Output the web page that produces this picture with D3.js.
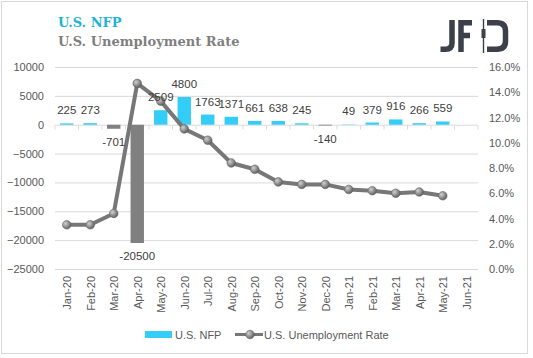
<!DOCTYPE html>
<html><head><meta charset="utf-8">
<script src="https://cdn.jsdelivr.net/npm/d3@7/dist/d3.min.js"></script>
<style>
html,body{margin:0;padding:0;background:#fff;}
svg{display:block;}
</style></head>
<body>
<svg id="chart" width="533" height="358" font-family="Liberation Sans, Arial, sans-serif"></svg>
<script>
const categories = ["Jan-20","Feb-20","Mar-20","Apr-20","May-20","Jun-20","Jul-20","Aug-20","Sep-20","Oct-20","Nov-20","Dec-20","Jan-21","Feb-21","Mar-21","Apr-21","May-21","Jun-21"];
const nfp = [225,273,-701,-20500,2509,4800,1763,1371,661,638,245,-140,49,379,916,266,559,null];
const unemployment = [3.5,3.5,4.4,14.7,13.3,11.1,10.2,8.4,7.9,6.9,6.7,6.7,6.3,6.2,6.0,6.1,5.8,null];
const leftTicks = [10000,5000,0,-5000,-10000,-15000,-20000,-25000];
const rightTicks = [0,2,4,6,8,10,12,14,16];
const titles = ["U.S. NFP","U.S. Unemployment Rate"];
const seriesNames = ["U.S. NFP","U.S. Unemployment Rate"];

const svg = d3.select("#chart");
const W=533,H=358;
const L=55,R=478,T=67,B=269;

svg.append("rect").attr("x",1.5).attr("y",1.5).attr("width",W-7).attr("height",H-6)
  .attr("fill","#fff").attr("stroke","#d9d9d9").attr("stroke-width",1);

const defs = svg.append("defs");
const g = defs.append("radialGradient").attr("id","mk").attr("cx","35%").attr("cy","35%").attr("r","70%");
g.append("stop").attr("offset","0%").attr("stop-color","#d0d0d0");
g.append("stop").attr("offset","60%").attr("stop-color","#8a8a8a");
g.append("stop").attr("offset","100%").attr("stop-color","#5a5a5a");

const x = d3.scaleBand().domain(categories).range([L,R]).paddingInner(0.43).paddingOuter(0.215);
const xb = d3.scaleBand().domain(categories).range([L,R]);
const y = d3.scaleLinear().domain([-25000,10000]).range([B,T]);
const y2 = d3.scaleLinear().domain([0,16]).range([B,T]);

// gridlines
svg.append("g").selectAll("line").data(leftTicks).join("line")
  .attr("x1",L).attr("x2",R).attr("y1",d=>y(d)+0.5).attr("y2",d=>y(d)+0.5)
  .attr("stroke","#d9d9d9").attr("stroke-width",1);

// left axis labels
const la = svg.append("g").attr("transform",`translate(${L-11},0)`)
  .call(d3.axisLeft(y).tickValues(leftTicks).tickSize(0).tickPadding(0).tickFormat(d3.format("d")));
la.select(".domain").remove();
la.attr("font-family",null).attr("font-size",null);
la.selectAll("text").attr("font-size","11px").attr("fill","#595959");

// right axis labels
const ra = svg.append("g").attr("transform",`translate(${R+11},0)`)
  .call(d3.axisRight(y2).tickValues(rightTicks).tickSize(0).tickPadding(0).tickFormat(d=>d3.format(".1f")(d)+"%"));
ra.select(".domain").remove();
ra.attr("font-family",null).attr("font-size",null);
ra.selectAll("text").attr("font-size","11px").attr("fill","#595959");

// zero axis tick marks
const za = svg.append("g").attr("transform",`translate(0,${Math.round(y(0))+0.5})`);
za.selectAll("line").data(d3.range(categories.length+1)).join("line")
  .attr("x1",i=>L+i*xb.step()).attr("x2",i=>L+i*xb.step()).attr("y1",0).attr("y2",4)
  .attr("stroke","#d9d9d9");

// bars
const barData = categories.map((c,i)=>({c,v:nfp[i]})).filter(d=>d.v!==null);
svg.append("g").selectAll("rect").data(barData).join("rect")
  .attr("x",d=>x(d.c)).attr("width",x.bandwidth())
  .attr("y",d=>y(Math.max(0,d.v))).attr("height",d=>Math.abs(y(d.v)-y(0)))
  .attr("fill",d=>d.v>=0?"#33cdf7":"#808080");

// category labels
svg.append("g").selectAll("text").data(categories).join("text")
  .attr("transform",d=>`translate(${xb(d)+xb.bandwidth()/2+0.5},276) rotate(-90)`)
  .attr("text-anchor","end").attr("dy","0.35em")
  .attr("font-size","11px").attr("fill","#595959").text(d=>d);

// line
const lineData = categories.map((c,i)=>({c,v:unemployment[i]})).filter(d=>d.v!==null);
const line = d3.line().x(d=>xb(d.c)+xb.bandwidth()/2).y(d=>y2(d.v));
svg.append("path").datum(lineData).attr("d",line).attr("fill","none")
  .attr("stroke","#777777").attr("stroke-width",4).attr("stroke-linejoin","round");
svg.append("g").selectAll("circle").data(lineData).join("circle")
  .attr("cx",d=>xb(d.c)+xb.bandwidth()/2).attr("cy",d=>y2(d.v)).attr("r",4.3)
  .attr("fill","url(#mk)").attr("stroke","#666").attr("stroke-width",0.6);

// data labels
svg.append("g").selectAll("text").data(barData).join("text")
  .attr("x",d=>xb(d.c)+xb.bandwidth()/2)
  .attr("y",d=>d.v>=0? y(d.v)-9 : y(d.v)+17)
  .attr("text-anchor","middle").attr("font-size","11.5px").attr("fill","#404040")
  .text(d=>d.v);

// titles
svg.append("text").attr("x",58).attr("y",27).attr("font-family","DejaVu Serif, serif")
  .attr("font-weight","bold").attr("font-size","13px").attr("fill","#1cb3da").text(titles[0]);
svg.append("text").attr("x",58).attr("y",46).attr("font-family","DejaVu Serif, serif")
  .attr("font-weight","bold").attr("font-size","13px").attr("fill","#7f7f7f").text(titles[1]);

// logo
const lg = svg.append("g").attr("fill","none").attr("stroke","#3b4049").attr("stroke-width",5.5);
lg.append("path").attr("d","M452,20 V43 Q452,49.2 445.5,49.2 H440.5");
lg.append("path").attr("d","M461,20 V52 M458.5,22.7 H472 M458.5,35.5 H470");
lg.append("path").attr("d","M487,22.7 H497 Q505.5,22.7 505.5,31 V41 Q505.5,49.2 497,49.2 H487");
svg.append("line").attr("x1",483.5).attr("x2",483.5).attr("y1",19).attr("y2",53).attr("stroke","#3b4049").attr("stroke-width",1.4);
svg.append("rect").attr("x",481.5).attr("y",29).attr("width",4).attr("height",9).attr("fill","#3b4049");

// legend
svg.append("rect").attr("x",145).attr("y",331).attr("width",27).attr("height",7).attr("fill","#33cdf7");
svg.append("text").attr("x",175).attr("y",338.5).attr("font-size","11px").attr("fill","#595959").text(seriesNames[0]);
svg.append("line").attr("x1",235).attr("x2",263).attr("y1",334.5).attr("y2",334.5).attr("stroke","#777").attr("stroke-width",3);
svg.append("circle").attr("cx",250).attr("cy",334.5).attr("r",4.3).attr("fill","url(#mk)").attr("stroke","#666").attr("stroke-width",0.6);
svg.append("text").attr("x",264).attr("y",338.5).attr("font-size","11px").attr("fill","#595959").text(seriesNames[1]);
</script>
</body></html>
